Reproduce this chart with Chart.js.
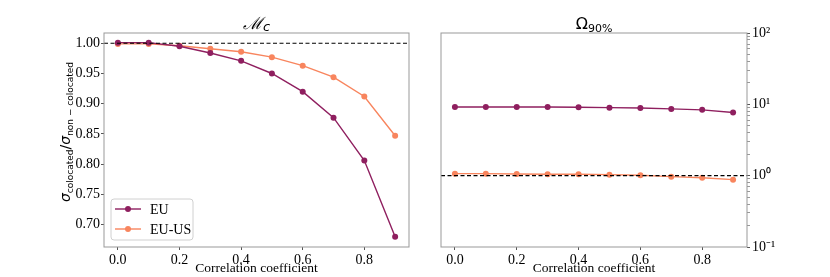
<!DOCTYPE html>
<html>
<head>
<meta charset="utf-8">
<script src="https://cdn.jsdelivr.net/npm/chart.js@4/dist/chart.umd.min.js"></script>
<style>
  html, body { margin: 0; padding: 0; background: #fff; }
  #wrap { position: relative; width: 830px; height: 277px; }
  canvas { position: absolute; top: 0; }
</style>
</head>
<body>
<div id="wrap">
  <canvas id="left" style="left:0" width="420" height="277"></canvas>
  <canvas id="right" style="left:420px" width="410" height="277"></canvas>
</div>
<script>
// data
const correlation = [0.0, 0.1, 0.2, 0.3, 0.4, 0.5, 0.6, 0.7, 0.8, 0.9];
const sigmaEU   = [1.001, 1.001, 0.995, 0.984, 0.971, 0.950, 0.920, 0.877, 0.806, 0.680];
const sigmaEUUS = [0.999, 0.999, 0.996, 0.991, 0.986, 0.977, 0.963, 0.944, 0.912, 0.847];
const omegaEU   = [9.17, 9.17, 9.17, 9.17, 9.08, 8.99, 8.90, 8.63, 8.37, 7.70];
const omegaEUUS = [1.067, 1.067, 1.056, 1.046, 1.046, 1.033, 1.013, 0.968, 0.937, 0.879];

const xTicks = [0.0, 0.2, 0.4, 0.6, 0.8];
const sigmaTicks = [0.70, 0.75, 0.80, 0.85, 0.90, 0.95, 1.00];
const omegaTicks = [0.1, 1, 10, 100];
const omegaTickLabels = ['10\u207B\u00B9', '10\u2070', '10\u00B9', '10\u00B2'];
const seriesNames = ['EU', 'EU-US'];
const refLine = 1.0;

const colEU = '#8f1f5f';
const colEUUS = '#f8855e';
const serif = "'Liberation Serif', 'Times New Roman', serif";
const tickFont = { family: serif, size: 14 };

function pts(ys) { return correlation.map((x, i) => ({ x: x, y: ys[i] })); }

function ds(label, ys, col) {
  return {
    label: label, data: pts(ys), borderColor: col, backgroundColor: col,
    borderWidth: 1.4, pointRadius: 3, pointBorderWidth: 0, pointHoverRadius: 3, tension: 0
  };
}

// draws pieces of text one after the other, with optional baseline shift
function drawPieces(ctx, pieces, cx, cy) {
  let total = 0;
  pieces.forEach(p => { ctx.font = p.font; total += ctx.measureText(p.t).width; });
  let x = cx - total / 2;
  ctx.textAlign = 'left';
  ctx.textBaseline = 'alphabetic';
  pieces.forEach(p => {
    ctx.font = p.font;
    ctx.fillText(p.t, x, cy + (p.dy || 0));
    x += ctx.measureText(p.t).width;
  });
}

const decor = {
  id: 'decor',
  afterDatasetsDraw(chart, args, opts) {
    const ctx = chart.ctx, a = chart.chartArea;
    ctx.save();
    const y = chart.scales.y.getPixelForValue(refLine);
    ctx.setLineDash([4, 2.5]);
    ctx.strokeStyle = '#000';
    ctx.lineWidth = 1.1;
    ctx.beginPath(); ctx.moveTo(a.left, y); ctx.lineTo(a.right, y); ctx.stroke();
    ctx.restore();
  },
  afterDraw(chart, args, opts) {
    const ctx = chart.ctx, a = chart.chartArea;
    ctx.save();
    ctx.strokeStyle = '#999';
    ctx.lineWidth = 1;
    ctx.strokeRect(a.left, a.top, a.right - a.left, a.bottom - a.top);
    ctx.fillStyle = '#000';
    drawPieces(ctx, opts.title, (a.left + a.right) / 2, 29);

    if (opts.yTitle) {
      ctx.save();
      ctx.translate(opts.yTitleX, opts.yTitleY);
      ctx.rotate(-Math.PI / 2);
      drawPieces(ctx, opts.yTitle, 0, 5);
      ctx.restore();
    }

    if (opts.legend) {
      const L = opts.legend;
      ctx.fillStyle = 'rgba(255,255,255,0.85)';
      ctx.strokeStyle = '#d0d0d0';
      ctx.beginPath();
      ctx.roundRect(L.x, L.y, L.w, L.h, 3);
      ctx.fill(); ctx.stroke();
      chart.data.datasets.forEach((d, i) => {
        const yy = L.y + 10 + i * 20;
        ctx.strokeStyle = d.borderColor;
        ctx.lineWidth = 1.4;
        ctx.beginPath(); ctx.moveTo(L.x + 4, yy); ctx.lineTo(L.x + 30, yy); ctx.stroke();
        ctx.fillStyle = d.borderColor;
        ctx.beginPath(); ctx.arc(L.x + 17, yy, 3, 0, Math.PI * 2); ctx.fill();
        ctx.fillStyle = '#000';
        ctx.font = '14px ' + serif;
        ctx.textAlign = 'left';
        ctx.textBaseline = 'middle';
        ctx.fillText(d.label, L.x + 39, yy + 1);
      });
    }
    ctx.restore();
  }
};

function xScale() {
  return {
    type: 'linear', min: -0.045, max: 0.945,
    afterBuildTicks: s => { s.ticks = xTicks.map(v => ({ value: v })); },
    afterFit: s => { s.height = 30; },
    ticks: { font: tickFont, color: '#000', autoSkip: false, maxRotation: 0, padding: 2,
             callback: v => v.toFixed(1) },
    grid: { drawOnChartArea: false, drawTicks: true, tickLength: 3, color: '#555' },
    border: { display: false },
    title: { display: true, text: 'Correlation coefficient', font: { family: serif, size: 13.5 },
             color: '#000', padding: { top: 0, bottom: 0 } }
  };
}

const base = {
  responsive: false, animation: false, devicePixelRatio: 1,
  plugins: { legend: { display: false }, tooltip: { enabled: false } }
};

new Chart(document.getElementById('left'), {
  type: 'line',
  data: { datasets: [ds(seriesNames[0], sigmaEU, colEU), ds(seriesNames[1], sigmaEUUS, colEUUS)] },
  options: Object.assign({}, base, {
    layout: { padding: { top: 33, right: 11, left: 0, bottom: 0 } },
    scales: {
      x: xScale(),
      y: {
        min: 0.663, max: 1.017,
        afterBuildTicks: s => { s.ticks = sigmaTicks.map(v => ({ value: v })); },
        afterFit: s => { s.width = 104; },
        ticks: { font: tickFont, color: '#000', autoSkip: false, padding: 1,
                 callback: v => v.toFixed(2) },
        grid: { drawOnChartArea: false, drawTicks: true, tickLength: 3, color: '#555' },
        border: { display: false }
      }
    },
    plugins: Object.assign({}, base.plugins, {
      decor: {
        title: [
          { t: '\u2133', font: 'italic 17px DejaVu Serif' },
          { t: 'c', font: 'italic 13px DejaVu Sans', dy: 2 }
        ],
        yTitleX: 65,
        yTitleY: 132,
        yTitle: [
          { t: '\u03C3', font: 'italic 14px DejaVu Sans' },
          { t: 'colocated', font: '9px DejaVu Sans', dy: 3 },
          { t: '/', font: '14px DejaVu Sans' },
          { t: '\u03C3', font: 'italic 14px DejaVu Sans' },
          { t: 'non \u2212 colocated', font: '9px DejaVu Sans', dy: 3 }
        ],
        legend: { x: 111, y: 199, w: 82, h: 41 }
      }
    })
  }),
  plugins: [decor]
});

new Chart(document.getElementById('right'), {
  type: 'line',
  data: { datasets: [ds(seriesNames[0], omegaEU, colEU), ds(seriesNames[1], omegaEUUS, colEUUS)] },
  options: Object.assign({}, base, {
    layout: { padding: { top: 33, right: 0, left: 21, bottom: 0 } },
    scales: {
      x: xScale(),
      y: {
        type: 'logarithmic', position: 'right', min: 0.1, max: 100,
        afterBuildTicks: s => {
          const t = [];
          omegaTicks.forEach((m, i) => {
            t.push({ value: m, major: true });
            if (i < omegaTicks.length - 1) {
              for (let k = 2; k <= 9; k++) t.push({ value: m * k, major: false });
            }
          });
          s.ticks = t;
        },
        afterFit: s => { s.width = 83; },
        ticks: { font: tickFont, color: '#000', autoSkip: false, padding: 2,
                 callback: v => { const i = omegaTicks.indexOf(v); return i >= 0 ? omegaTickLabels[i] : ''; } },
        grid: { drawOnChartArea: false, drawTicks: true, tickLength: 3,
                color: c => (c.tick && c.tick.major) ? '#555' : '#999' },
        border: { display: false }
      }
    },
    plugins: Object.assign({}, base.plugins, {
      decor: {
        title: [
          { t: '\u03A9', font: '16px DejaVu Sans' },
          { t: '90%', font: '11px DejaVu Sans', dy: 3 }
        ]
      }
    })
  }),
  plugins: [decor]
});
</script>
</body>
</html>
